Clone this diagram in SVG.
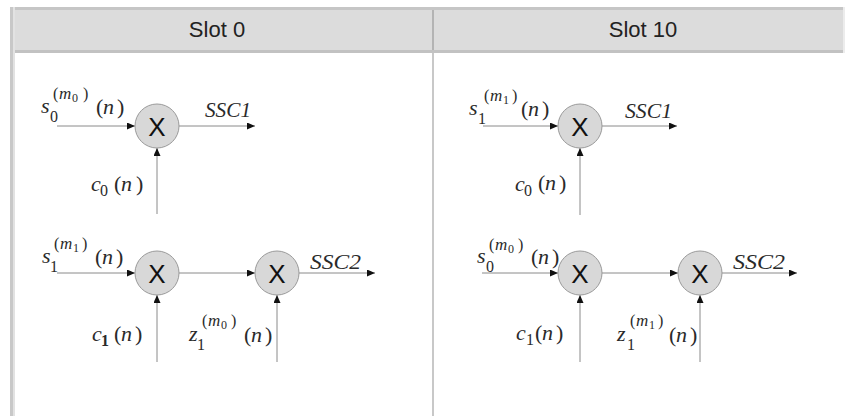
<svg xmlns="http://www.w3.org/2000/svg" width="845" height="416" viewBox="0 0 845 416">
  <style>
    .hdr { font-family: "Liberation Sans", Arial, sans-serif; font-size: 22px; fill: #222; text-anchor: middle; }
    .mul { fill: #d8d8d8; stroke: #9a9a9a; stroke-width: 1; }
    .x { font-family: "Liberation Sans", Arial, sans-serif; font-size: 26px; fill: #111; text-anchor: middle; }
    .wire { stroke: #8a8a8a; stroke-width: 1; fill: none; marker-end: url(#tip); }
    .m { font-family: "Liberation Serif", "Times New Roman", serif; fill: #2a2a2a; }
    .i { font-style: italic; }
    .big { font-size: 22px; }
    .sm { font-size: 16px; }
    .mi { font-size: 17px; font-style: italic; }
    .tiny { font-size: 12px; }
    .ssc { font-family: "Liberation Serif", "Times New Roman", serif; font-style: italic; font-size: 21px; fill: #2a2a2a; }
  </style>
  <defs>
    <marker id="tip" markerUnits="userSpaceOnUse" markerWidth="8" markerHeight="7" refX="8" refY="3.5" orient="auto">
      <path d="M0,0 L8,3.5 L0,7 z" fill="#111"/>
    </marker>
  </defs>

  <rect width="845" height="416" fill="#ffffff"/>

  <!-- table frame -->
  <g id="frame">
    <rect x="10" y="7" width="833" height="46" fill="#dcdcdc"/>
    <rect x="10" y="7" width="833" height="3" fill="#c6c6c6"/>
    <rect x="10" y="50" width="833" height="3" fill="#c2c2c2"/>
    <rect x="10" y="7" width="3" height="409" fill="#c8c8c8"/>
    <rect x="13" y="7" width="2" height="409" fill="#e2e2e2"/>
    <rect x="432" y="53" width="2" height="363" fill="#c8c8c8"/>
    <rect x="432" y="10" width="2" height="40" fill="#b4b4b4"/>
    <rect x="843" y="7" width="2" height="46" fill="#ececec"/>
    <text class="hdr" x="217" y="37">Slot 0</text>
    <text class="hdr" x="643" y="37">Slot 10</text>
  </g>

  <!-- connectors -->
  <g id="connectors">
    <line class="wire" x1="57" y1="126" x2="135" y2="126"/>
    <line class="wire" x1="179" y1="126" x2="255" y2="126"/>
    <line class="wire" x1="157" y1="214" x2="157" y2="148"/>

    <line class="wire" x1="57" y1="273" x2="135" y2="273"/>
    <line class="wire" x1="179" y1="273" x2="255" y2="273"/>
    <line class="wire" x1="299" y1="273" x2="375" y2="273"/>
    <line class="wire" x1="157" y1="362" x2="157" y2="295"/>
    <line class="wire" x1="277" y1="362" x2="277" y2="295"/>

    <line class="wire" x1="483" y1="126" x2="558" y2="126"/>
    <line class="wire" x1="602" y1="126" x2="677" y2="126"/>
    <line class="wire" x1="580" y1="215" x2="580" y2="148"/>

    <line class="wire" x1="482" y1="273" x2="558" y2="273"/>
    <line class="wire" x1="602" y1="273" x2="678" y2="273"/>
    <line class="wire" x1="722" y1="273" x2="797" y2="273"/>
    <line class="wire" x1="580" y1="362" x2="580" y2="295"/>
    <line class="wire" x1="700" y1="362" x2="700" y2="295"/>
  </g>

  <!-- multipliers -->
  <g id="mul-s0-top">
    <circle class="mul" cx="157" cy="126" r="22"/>
    <text class="x" x="157" y="135.5">X</text>
  </g>
  <g id="mul-s0-bottom-a">
    <circle class="mul" cx="157" cy="273" r="22"/>
    <text class="x" x="157" y="282.5">X</text>
  </g>
  <g id="mul-s0-bottom-b">
    <circle class="mul" cx="277" cy="273" r="22"/>
    <text class="x" x="277" y="282.5">X</text>
  </g>
  <g id="mul-s10-top">
    <circle class="mul" cx="580" cy="126" r="22"/>
    <text class="x" x="580" y="135.5">X</text>
  </g>
  <g id="mul-s10-bottom-a">
    <circle class="mul" cx="580" cy="273" r="22"/>
    <text class="x" x="580" y="282.5">X</text>
  </g>
  <g id="mul-s10-bottom-b">
    <circle class="mul" cx="700" cy="273" r="22"/>
    <text class="x" x="700" y="282.5">X</text>
  </g>

  <!-- slot 0 labels -->
  <g id="labels-slot0">
    <text class="m">
      <tspan class="big i" x="41" y="113">s</tspan><tspan class="sm" x="50" y="122">0</tspan>
      <tspan class="sm" x="53" y="99">(</tspan><tspan class="mi" x="59" y="99">m</tspan><tspan class="tiny" x="72" y="102">0</tspan><tspan class="sm" x="83" y="99">)</tspan>
      <tspan class="big" x="96" y="114">(</tspan><tspan class="big i" x="103" y="114">n</tspan><tspan class="big" x="117" y="114">)</tspan>
    </text>
    <text class="ssc" x="205" y="117" textLength="46" lengthAdjust="spacingAndGlyphs">SSC1</text>
    <text class="m">
      <tspan class="big i" x="91" y="191">c</tspan><tspan class="sm" x="100" y="196">0</tspan>
      <tspan class="big" x="114" y="191">(</tspan><tspan class="big i" x="121" y="191">n</tspan><tspan class="big" x="136" y="191">)</tspan>
    </text>

    <text class="m">
      <tspan class="big i" x="42" y="263">s</tspan><tspan class="sm" x="50" y="272">1</tspan>
      <tspan class="sm" x="54" y="249">(</tspan><tspan class="mi" x="60" y="249">m</tspan><tspan class="tiny" x="73" y="252">1</tspan><tspan class="sm" x="82" y="249">)</tspan>
      <tspan class="big" x="95" y="264">(</tspan><tspan class="big i" x="102" y="264">n</tspan><tspan class="big" x="116" y="264">)</tspan>
    </text>
    <text class="ssc" x="310" y="269" textLength="51" lengthAdjust="spacingAndGlyphs">SSC2</text>
    <text class="m">
      <tspan class="big i" x="92" y="341">c</tspan><tspan class="sm" x="101" y="346" font-weight="bold">1</tspan>
      <tspan class="big" x="114" y="341">(</tspan><tspan class="big i" x="121" y="341">n</tspan><tspan class="big" x="135" y="341">)</tspan>
    </text>
    <text class="m">
      <tspan class="big i" x="189" y="341">z</tspan><tspan class="sm" x="197" y="350">1</tspan>
      <tspan class="sm" x="202" y="326">(</tspan><tspan class="mi" x="208" y="326">m</tspan><tspan class="tiny" x="221" y="329">0</tspan><tspan class="sm" x="231" y="326">)</tspan>
      <tspan class="big" x="244" y="342">(</tspan><tspan class="big i" x="251" y="342">n</tspan><tspan class="big" x="265" y="342">)</tspan>
    </text>
  </g>

  <!-- slot 10 labels -->
  <g id="labels-slot10">
    <text class="m">
      <tspan class="big i" x="469" y="115">s</tspan><tspan class="sm" x="478" y="124">1</tspan>
      <tspan class="sm" x="484" y="101">(</tspan><tspan class="mi" x="490" y="101">m</tspan><tspan class="tiny" x="503" y="104">1</tspan><tspan class="sm" x="512" y="101">)</tspan>
      <tspan class="big" x="521" y="116">(</tspan><tspan class="big i" x="528" y="116">n</tspan><tspan class="big" x="542" y="116">)</tspan>
    </text>
    <text class="ssc" x="625" y="118" textLength="47" lengthAdjust="spacingAndGlyphs">SSC1</text>
    <text class="m">
      <tspan class="big i" x="515" y="191">c</tspan><tspan class="sm" x="524" y="196">0</tspan>
      <tspan class="big" x="538" y="190">(</tspan><tspan class="big i" x="545" y="190">n</tspan><tspan class="big" x="559" y="190">)</tspan>
    </text>

    <text class="m">
      <tspan class="big i" x="477" y="263">s</tspan><tspan class="sm" x="486" y="272">0</tspan>
      <tspan class="sm" x="489" y="250">(</tspan><tspan class="mi" x="495" y="250">m</tspan><tspan class="tiny" x="508" y="253">0</tspan><tspan class="sm" x="518" y="250">)</tspan>
      <tspan class="big" x="531" y="264">(</tspan><tspan class="big i" x="538" y="264">n</tspan><tspan class="big" x="552" y="264">)</tspan>
    </text>
    <text class="ssc" x="733" y="269" textLength="52" lengthAdjust="spacingAndGlyphs">SSC2</text>
    <text class="m">
      <tspan class="big i" x="516" y="340">c</tspan><tspan class="sm" x="526" y="345">1</tspan>
      <tspan class="big" x="535" y="340">(</tspan><tspan class="big i" x="542" y="340">n</tspan><tspan class="big" x="556" y="340">)</tspan>
    </text>
    <text class="m">
      <tspan class="big i" x="617" y="341">z</tspan><tspan class="sm" x="627" y="350">1</tspan>
      <tspan class="sm" x="630" y="326">(</tspan><tspan class="mi" x="636" y="326">m</tspan><tspan class="tiny" x="649" y="329">1</tspan><tspan class="sm" x="658" y="326">)</tspan>
      <tspan class="big" x="669" y="342">(</tspan><tspan class="big i" x="676" y="342">n</tspan><tspan class="big" x="690" y="342">)</tspan>
    </text>
  </g>
</svg>
